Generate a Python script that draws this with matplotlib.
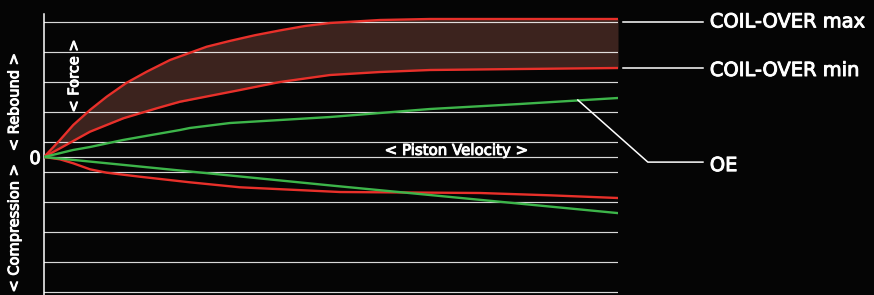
import numpy as np
import matplotlib
matplotlib.use("Agg")
from matplotlib import pyplot as plt
from matplotlib import patheffects as pe

# piston velocity / force values (0 = origin)
vel_max = [0, 0.279, 0.510, 0.801, 1.092, 1.441, 1.789, 2.195, 2.835, 3.240,
           3.676, 4.111, 4.547, 4.983, 5.854, 6.725, 8.29, 10]
force_max = [0, 0.567, 1.067, 1.567, 2.01, 2.477, 2.843, 3.233, 3.677, 3.87,
             4.06, 4.22, 4.367, 4.467, 4.567, 4.60, 4.60, 4.60]

vel_min = [0, 0.279, 0.801, 1.382, 1.963, 2.369, 3.415, 4.111, 4.983, 5.854,
           6.725, 8.29, 10]
force_min = [0, 0.29, 0.843, 1.29, 1.623, 1.843, 2.233, 2.5, 2.733, 2.833,
             2.9, 2.933, 2.967]

vel_oe_reb = [0, 0.505, 0.801, 1.376, 1.672, 2.369, 2.54, 3.03, 3.24, 4.983,
              6.725, 8.29, 10]
force_oe_reb = [0, 0.233, 0.333, 0.567, 0.667, 0.9, 0.967, 1.083, 1.133, 1.333,
                1.6, 1.767, 1.967]

vel_oe_comp = [0, 5, 10]
force_oe_comp = [0, -0.95, -1.87]

vel_co_comp = [0, 0.279, 0.510, 0.801, 1.092, 1.672, 2.54, 3.415, 5.157,
               7.596, 8.815, 10]
force_co_comp = [0, -0.077, -0.21, -0.41, -0.523, -0.657, -0.843, -1.01,
                 -1.167, -1.2, -1.277, -1.367]

grid_levels = [-4.5, -3.5, -2.5, -1.5, -0.5, 0, 0.5, 1.5, 2.5, 3.5, 4.5]

RED = '#e8302a'
GREEN = '#3db54a'
BG = '#050505'

fig = plt.figure(figsize=(8.74, 2.95), dpi=100, facecolor=BG)
ax = fig.add_axes([44 / 874, 0, (618 - 44) / 874, (295 - 14) / 295])
ax.set_facecolor(BG)
ax.set_xlim(0, 10)
ax.set_ylim(-4.6, 4.767)

# band between the two coil-over curves
fmin_on_max = np.interp(vel_max, vel_min, force_min)
ax.fill_between(vel_max, fmin_on_max, force_max, color='#3c231e', lw=0, zorder=1)
ax.vlines(10, force_min[-1], force_max[-1], color='#b8a8a0', lw=0.6, zorder=1)

for g in grid_levels:
    ax.axhline(g, color='white', lw=0.85, alpha=0.85, zorder=2)

ax.plot(vel_max, force_max, color=RED, lw=1.7, zorder=4)
ax.plot(vel_min, force_min, color=RED, lw=1.7, zorder=4)
ax.plot(vel_co_comp, force_co_comp, color=RED, lw=1.7, zorder=4)
ax.plot(vel_oe_reb, force_oe_reb, color=GREEN, lw=1.7, zorder=4)
ax.plot(vel_oe_comp, force_oe_comp, color=GREEN, lw=1.7, zorder=4)

for s in ['top', 'right', 'bottom']:
    ax.spines[s].set_visible(False)
ax.spines['left'].set_color('white')
ax.spines['left'].set_linewidth(1.1)
ax.set_xticks([])
ax.set_yticks([])

# leader lines and series names
lc = dict(color='white', lw=1.1, clip_on=False, zorder=5)
ax.plot([10.09, 11.48], [4.51, 4.51], **lc)
ax.plot([10.09, 11.48], [2.96, 2.96], **lc)
ax.plot([9.30, 10.52, 11.48], [1.90, -0.17, -0.17], **lc)

thick = [pe.withStroke(linewidth=0.7, foreground='white')]
tk = dict(color='white', fontsize=14, va='baseline', ha='left', clip_on=False,
          path_effects=thick)
ax.text(11.6, 4.32, 'COIL-OVER max', **tk)
ax.text(11.6, 2.70, 'COIL-OVER min', **tk)
ax.text(11.6, -0.47, 'OE', **tk)

ax.text(7.19, 0.07, '< Piston Velocity >', color='white', fontsize=10.8,
        ha='center', va='baseline', path_effects=thick)
ax.text(0.52, 2.7, '< Force >', color='white', fontsize=10.5, rotation=90,
        ha='center', va='center', path_effects=thick)
fig.text(35 / 874, 1 - 159 / 295, '0', color='white', fontsize=13,
         ha='center', va='center', path_effects=thick)
fig.text(14 / 874, 1 - 228 / 295, '< Compression >', color='white', fontsize=10.5,
         rotation=90, ha='center', va='center', path_effects=thick)
fig.text(14 / 874, 1 - 102 / 295, '< Rebound >', color='white', fontsize=10.5,
         rotation=90, ha='center', va='center', path_effects=thick)

fig.savefig('out.png', dpi=100, facecolor=BG)
